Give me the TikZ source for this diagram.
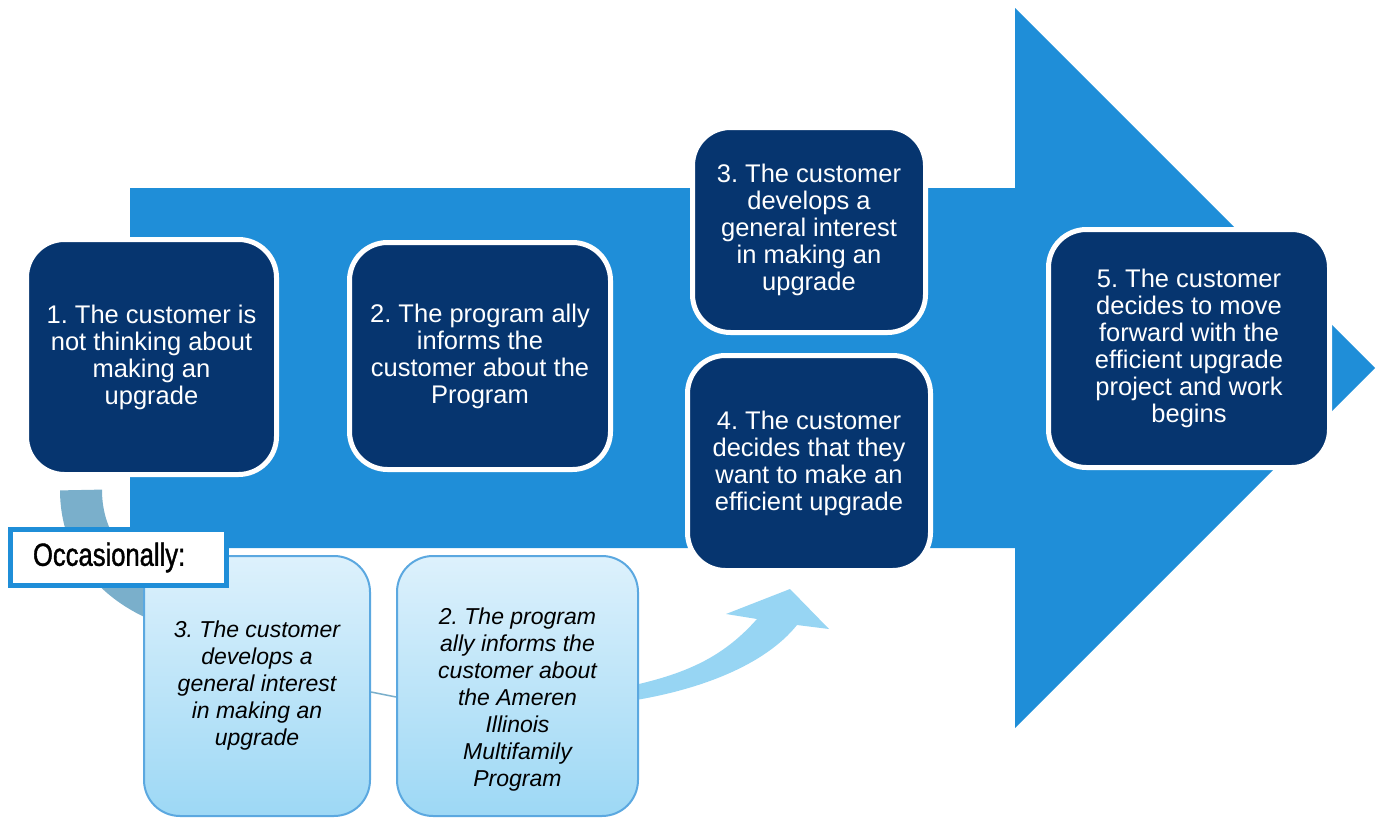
\documentclass[tikz,border=0pt]{standalone}
\usepackage{fontspec}
\setmainfont{Liberation Sans}
\newfontfamily\narrowfont[FakeStretch=0.8,FakeBold=1.2]{Liberation Sans}
\usetikzlibrary{calc}
\definecolor{arrowblue}{HTML}{1F8ED8}
\definecolor{navy}{HTML}{06356F}
\definecolor{paleedge}{HTML}{5BA8E0}
\definecolor{paletop}{HTML}{DDF1FC}
\definecolor{palebot}{HTML}{9DD8F5}
\definecolor{bendblue}{HTML}{7AAFCB}
\definecolor{liftblue}{HTML}{97D5F3}
\frenchspacing

\begin{document}
\begin{tikzpicture}[x=1pt,y=-1pt,
  stage/.style={rectangle, rounded corners=38pt, fill=navy, draw=white,
    line width=5pt, text=white, align=center,
    font=\fontsize{25.5}{27}\selectfont},
  alt/.style={rectangle, rounded corners=36pt, top color=paletop,
    bottom color=palebot, draw=paleedge, line width=2pt},
  alttext/.style={align=center, font=\fontsize{23}{27}\selectfont\itshape},
]
\useasboundingbox (0,0) rectangle (1382,819);

% bent band leaving step 1, behind the main arrow
\draw[bendblue, line width=42pt] (81,490) .. controls (81,545) and (115,585) .. (170,605);

% main process arrow
\fill[arrowblue] (130,188) -- (1015,188) -- (1015,8) -- (1375,368)
  -- (1015,728) -- (1015,548) -- (130,548) -- cycle;

% curved arrow rising from the alternative path towards step 4
\fill[liftblue] (630,701) .. controls (700,690) and (765,665) .. (797,625)
  -- (829,629) -- (790,589) -- (726,614) -- (757,619)
  .. controls (725,655) and (690,673) .. (630,686) -- cycle;

% main steps
\node[stage, minimum width=250pt, minimum height=235pt] (s1) at (151.5,357)
  {1. The customer is\\not thinking about\\making an\\upgrade};
\node[stage, minimum width=261pt, minimum height=227pt] (s2) at (480,356)
  {2. The program ally\\informs the\\customer about the\\Program};
\node[stage, minimum width=233pt, minimum height=205pt] (s3) at (809,230)
  {3. The customer\\develops a\\general interest\\in making an\\upgrade};
\node[stage, minimum width=243pt, minimum height=215pt] (s4) at (809,463)
  {4. The customer\\decides that they\\want to make an\\efficient upgrade};
\node[stage, minimum width=281pt, minimum height=238pt] (s5) at (1189,348.5)
  {5. The customer\\decides to move\\forward with the\\efficient upgrade\\project and work\\begins};

% alternative path
\node[alt, minimum width=226pt, minimum height=260pt] (a3) at (257,686) {};
\node[alttext] (a3text) at (a3.center)
  {3. The customer\\develops a\\general interest\\in making an\\upgrade};
\node[alt, minimum width=241pt, minimum height=260pt] (b2) at (517.5,686) {};
\node[alttext] (b2text) at ($(b2.center)+(0,14)$)
  {2. The program\\ally informs the\\customer about\\the Ameren\\Illinois\\Multifamily\\Program};
\draw[bendblue, line width=1.5pt] ($(a3.east)+(0,6)$) -- ($(b2.west)+(0,11)$);

\node[draw=arrowblue, line width=5pt, fill=white, minimum width=216pt,
  minimum height=56pt, text width=171pt, inner xsep=22.5pt, align=left,
  font=\narrowfont\fontsize{32}{33}\selectfont] (occ) at (118.5,557.5) {Occasionally:};
\end{tikzpicture}
\end{document}
